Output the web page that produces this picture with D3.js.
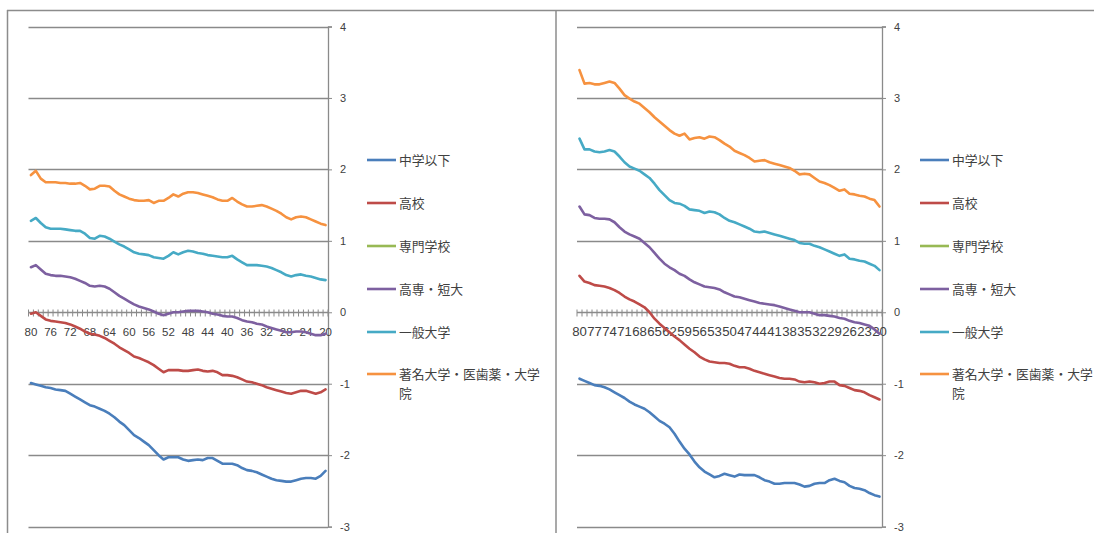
<!DOCTYPE html>
<html>
<head>
<meta charset="utf-8">
<script src="https://cdn.jsdelivr.net/npm/d3@7"></script>
<style>
  html, body { margin: 0; padding: 0; background: #fff; }
  svg { display: block; }
</style>
</head>
<body>
<svg id="chart" width="1094" height="533"></svg>
<script>
// Age categories (80 down to 20) shared by both panels
const ages = [80,79,78,77,76,75,74,73,72,71,70,69,68,67,66,65,64,63,62,61,60,
  59,58,57,56,55,54,53,52,51,50,49,48,47,46,45,44,43,42,41,40,
  39,38,37,36,35,34,33,32,31,30,29,28,27,26,25,24,23,22,21,20];

const leftTickLabels = [80,76,72,68,64,60,56,52,48,44,40,36,32,28,24,20];
const rightTickLabels = [80,77,74,71,68,65,62,59,56,53,50,47,44,41,38,35,32,29,26,23,20];
const yTickValues = [-3,-2,-1,0,1,2,3,4];

const seriesNames = ["中学以下", "高校", "専門学校", "高専・短大", "一般大学", "著名大学・医歯薬・大学院"];
const seriesColors = ["#4a7ebb", "#be4b48", "#98b954", "#7d60a0", "#46aac5", "#f69240"];

// Left panel
const leftJuniorHigh = [-0.99,-1.01,-1.03,-1.05,-1.06,-1.08,-1.09,-1.10,-1.14,-1.18,-1.22,-1.26,-1.30,-1.32,-1.35,-1.38,-1.42,-1.47,-1.53,-1.58,-1.65,
  -1.72,-1.76,-1.81,-1.86,-1.93,-2.00,-2.06,-2.03,-2.03,-2.03,-2.06,-2.08,-2.07,-2.06,-2.07,-2.04,-2.04,-2.08,-2.12,-2.12,
  -2.12,-2.14,-2.18,-2.21,-2.22,-2.24,-2.27,-2.30,-2.33,-2.35,-2.36,-2.37,-2.37,-2.35,-2.33,-2.32,-2.32,-2.33,-2.29,-2.22];
const leftHighSchool = [-0.02,0.00,-0.05,-0.10,-0.12,-0.13,-0.14,-0.15,-0.17,-0.20,-0.23,-0.27,-0.30,-0.31,-0.33,-0.36,-0.40,-0.44,-0.49,-0.53,-0.57,
  -0.62,-0.64,-0.67,-0.70,-0.74,-0.79,-0.84,-0.81,-0.81,-0.81,-0.82,-0.82,-0.81,-0.80,-0.82,-0.83,-0.82,-0.84,-0.88,-0.88,
  -0.89,-0.91,-0.94,-0.97,-0.98,-1.00,-1.02,-1.05,-1.07,-1.09,-1.11,-1.13,-1.14,-1.12,-1.10,-1.10,-1.12,-1.14,-1.12,-1.08];
const leftVocational = [];
const leftJuniorCollege = [0.63,0.66,0.60,0.54,0.52,0.51,0.51,0.50,0.49,0.47,0.44,0.41,0.37,0.36,0.37,0.36,0.33,0.28,0.23,0.19,0.15,
  0.11,0.08,0.06,0.04,0.01,-0.02,-0.04,-0.02,0.00,0.00,0.01,0.02,0.02,0.02,0.01,0.00,-0.02,-0.03,-0.05,-0.06,
  -0.06,-0.08,-0.11,-0.13,-0.14,-0.16,-0.17,-0.20,-0.22,-0.24,-0.26,-0.28,-0.28,-0.27,-0.27,-0.28,-0.30,-0.32,-0.32,-0.30];
const leftUniversity = [1.28,1.32,1.25,1.19,1.17,1.17,1.17,1.16,1.15,1.14,1.14,1.10,1.04,1.03,1.07,1.06,1.03,0.99,0.95,0.92,0.88,
  0.84,0.82,0.81,0.80,0.77,0.76,0.75,0.79,0.84,0.81,0.84,0.86,0.85,0.83,0.82,0.80,0.79,0.78,0.77,0.77,
  0.79,0.74,0.70,0.66,0.66,0.66,0.65,0.64,0.62,0.59,0.56,0.52,0.50,0.52,0.53,0.51,0.50,0.48,0.46,0.45];
const leftTopUniversity = [1.92,1.98,1.87,1.82,1.82,1.82,1.81,1.81,1.80,1.80,1.81,1.77,1.72,1.73,1.77,1.77,1.76,1.70,1.65,1.62,1.59,
  1.57,1.56,1.56,1.57,1.53,1.56,1.56,1.60,1.65,1.62,1.66,1.68,1.68,1.67,1.65,1.63,1.61,1.58,1.56,1.56,
  1.60,1.55,1.51,1.48,1.48,1.49,1.50,1.48,1.45,1.42,1.38,1.33,1.30,1.33,1.34,1.33,1.30,1.27,1.24,1.22];

// Right panel
const rightJuniorHigh = [-0.93,-0.96,-0.99,-1.02,-1.03,-1.05,-1.08,-1.12,-1.16,-1.20,-1.25,-1.29,-1.32,-1.35,-1.40,-1.46,-1.52,-1.56,-1.61,-1.70,-1.81,
  -1.91,-1.99,-2.09,-2.17,-2.23,-2.27,-2.31,-2.29,-2.26,-2.28,-2.30,-2.27,-2.28,-2.28,-2.28,-2.31,-2.35,-2.37,-2.40,-2.40,
  -2.39,-2.39,-2.39,-2.41,-2.44,-2.43,-2.40,-2.39,-2.39,-2.35,-2.33,-2.36,-2.38,-2.43,-2.46,-2.47,-2.49,-2.53,-2.56,-2.58];
const rightHighSchool = [0.51,0.43,0.41,0.38,0.37,0.36,0.34,0.31,0.27,0.22,0.18,0.15,0.11,0.07,0.00,-0.09,-0.16,-0.22,-0.28,-0.34,-0.39,
  -0.45,-0.51,-0.56,-0.62,-0.66,-0.69,-0.70,-0.71,-0.71,-0.72,-0.75,-0.77,-0.77,-0.79,-0.82,-0.84,-0.86,-0.88,-0.90,-0.92,
  -0.93,-0.93,-0.94,-0.97,-0.98,-0.97,-0.98,-1.00,-0.99,-0.97,-0.97,-1.02,-1.03,-1.06,-1.09,-1.10,-1.12,-1.16,-1.19,-1.22];
const rightVocational = [];
const rightJuniorCollege = [1.48,1.37,1.36,1.32,1.31,1.31,1.30,1.26,1.19,1.13,1.09,1.06,1.03,0.97,0.91,0.83,0.75,0.68,0.63,0.59,0.54,
  0.51,0.46,0.42,0.39,0.36,0.35,0.34,0.32,0.28,0.25,0.22,0.21,0.19,0.17,0.15,0.13,0.12,0.11,0.10,0.08,
  0.06,0.04,0.02,0.00,0.00,0.00,-0.02,-0.04,-0.04,-0.05,-0.06,-0.08,-0.09,-0.12,-0.14,-0.15,-0.17,-0.19,-0.24,-0.30];
const rightUniversity = [2.43,2.28,2.28,2.25,2.24,2.25,2.27,2.25,2.18,2.10,2.04,2.01,1.98,1.93,1.88,1.80,1.71,1.64,1.57,1.53,1.52,
  1.49,1.44,1.43,1.42,1.39,1.41,1.40,1.37,1.32,1.28,1.26,1.23,1.20,1.17,1.13,1.12,1.13,1.11,1.09,1.07,
  1.05,1.03,1.01,0.97,0.96,0.96,0.93,0.91,0.88,0.85,0.82,0.79,0.81,0.75,0.74,0.72,0.71,0.68,0.65,0.59];
const rightTopUniversity = [3.39,3.20,3.21,3.19,3.19,3.21,3.23,3.21,3.13,3.04,2.99,2.95,2.92,2.86,2.80,2.73,2.67,2.61,2.55,2.50,2.47,
  2.50,2.42,2.44,2.45,2.43,2.46,2.45,2.41,2.36,2.32,2.26,2.23,2.20,2.16,2.11,2.12,2.13,2.10,2.08,2.06,
  2.04,2.02,1.98,1.93,1.94,1.93,1.88,1.83,1.81,1.78,1.74,1.70,1.72,1.66,1.65,1.63,1.62,1.59,1.57,1.48];

const panels = [
  {
    plotLeft: 28.5, plotRight: 328, legendX: 367, catFontSize: 11.5,
    tickLabels: leftTickLabels,
    series: [leftJuniorHigh, leftHighSchool, leftVocational, leftJuniorCollege, leftUniversity, leftTopUniversity]
  },
  {
    plotLeft: 577, plotRight: 882, legendX: 920, catFontSize: 13.2,
    tickLabels: rightTickLabels,
    series: [rightJuniorHigh, rightHighSchool, rightVocational, rightJuniorCollege, rightUniversity, rightTopUniversity]
  }
];

const svg = d3.select("#chart");
const numFont = "'Liberation Sans', Arial, sans-serif";
const jpFont = "'Noto Sans CJK JP', 'Noto Sans', sans-serif";
const textColor = "#404040";
const gridColor = "#8a8a8a";

const y = d3.scaleLinear().domain([-3, 4]).range([526.6, 26.5]);

// Frame around the two charts
const frame = svg.append("g").attr("fill", "none").attr("stroke", "#8c8c8c").attr("stroke-width", 1.5);
frame.append("line").attr("x1", 7).attr("x2", 1094).attr("y1", 10.5).attr("y2", 10.5);
frame.append("line").attr("x1", 7.5).attr("x2", 7.5).attr("y1", 10).attr("y2", 533);
frame.append("line").attr("x1", 556).attr("x2", 556).attr("y1", 10).attr("y2", 533);

panels.forEach(p => {
  const g = svg.append("g");
  const x = d3.scalePoint().domain(ages).range([p.plotLeft, p.plotRight]).padding(0.5);
  const step = x.step();

  // Horizontal gridlines
  g.append("g").selectAll("line").data(yTickValues).join("line")
    .attr("x1", p.plotLeft).attr("x2", p.plotRight)
    .attr("y1", d => Math.round(y(d)) + 0.5).attr("y2", d => Math.round(y(d)) + 0.5)
    .attr("stroke", gridColor).attr("stroke-width", 1.3);

  // Value axis on the right side of the plot (plain hyphen for negatives)
  const yAxis = d3.axisRight(y).tickValues(yTickValues).tickSize(4).tickPadding(8).tickFormat(d => String(d));
  const ya = g.append("g").attr("transform", `translate(${p.plotRight},0)`).call(yAxis);
  ya.select(".domain").attr("stroke", gridColor).attr("stroke-width", 1.3);
  ya.selectAll(".tick line").attr("stroke", gridColor);
  ya.selectAll(".tick text").attr("fill", textColor).attr("font-family", numFont).attr("font-size", 11);

  // Category axis crossing at zero, with a tick between every category
  const y0 = Math.round(y(0)) + 0.5;
  const boundaries = ages.map(a => x(a) - step / 2).concat([x(ages[ages.length - 1]) + step / 2]);
  g.append("g").selectAll("line").data(boundaries).join("line")
    .attr("x1", d => d).attr("x2", d => d)
    .attr("y1", y0 - 3).attr("y2", y0 + 4)
    .attr("stroke", gridColor).attr("stroke-width", 1);
  g.append("g").selectAll("text").data(p.tickLabels).join("text")
    .attr("x", d => x(d)).attr("y", y0 + 23)
    .attr("text-anchor", "middle")
    .attr("font-family", numFont).attr("font-size", p.catFontSize).attr("fill", textColor)
    .text(d => d);

  // Series lines
  const line = d3.line().x((d, i) => x(ages[i])).y(d => y(d)).curve(d3.curveLinear);
  p.series.forEach((vals, si) => {
    if (!vals.length) return;
    g.append("path").datum(vals)
      .attr("d", line)
      .attr("fill", "none")
      .attr("stroke", seriesColors[si])
      .attr("stroke-width", 2.6)
      .attr("stroke-linejoin", "round")
      .attr("stroke-linecap", "round");
  });

  // Legend
  const legendY = [160, 203, 246, 289, 332, 374];
  const lg = g.append("g");
  seriesNames.forEach((name, si) => {
    const ly = legendY[si];
    lg.append("line")
      .attr("x1", p.legendX).attr("x2", p.legendX + 29)
      .attr("y1", ly).attr("y2", ly)
      .attr("stroke", seriesColors[si]).attr("stroke-width", 2.6);
    const t = lg.append("text")
      .attr("x", p.legendX + 32).attr("y", ly + 4.5)
      .attr("font-family", jpFont).attr("font-size", 12.8).attr("fill", textColor);
    // wrap long names onto a second line
    const maxW = 150;
    let lineText = "";
    let tspan = t.append("tspan").attr("x", p.legendX + 32).attr("dy", 0);
    for (const ch of name) {
      tspan.text(lineText + ch);
      if (tspan.node().getComputedTextLength() > maxW && lineText.length) {
        tspan.text(lineText);
        lineText = ch;
        tspan = t.append("tspan").attr("x", p.legendX + 32).attr("dy", 19).text(ch);
      } else {
        lineText += ch;
      }
    }
  });
});
</script>
</body>
</html>
